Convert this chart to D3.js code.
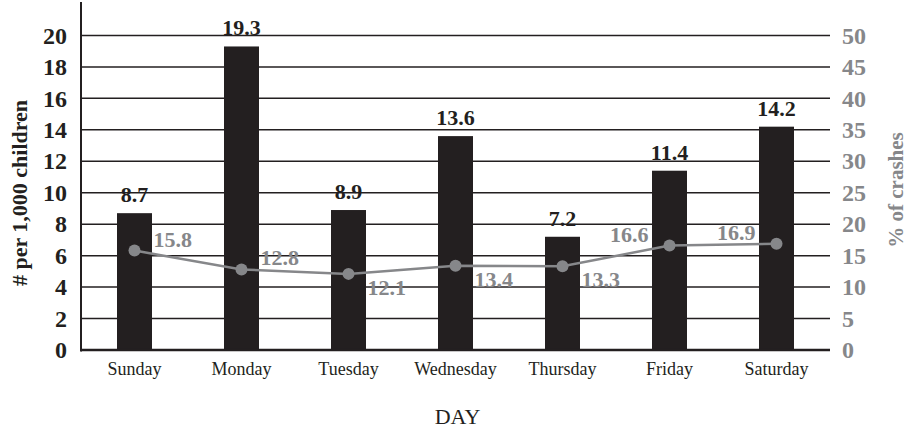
<!DOCTYPE html>
<html>
<head>
<meta charset="utf-8">
<script src="https://cdn.jsdelivr.net/npm/d3@7"></script>
<style>
  body { margin: 0; background: #fff; }
  svg { display: block; font-family: "Liberation Serif", "DejaVu Serif", serif; }
</style>
</head>
<body>
<div id="wrapper"></div>
<script>
// data
const days = ["Sunday", "Monday", "Tuesday", "Wednesday", "Thursday", "Friday", "Saturday"]
const ratePer1000 = [8.7, 19.3, 8.9, 13.6, 7.2, 11.4, 14.2]
const pctCrashes = [15.8, 12.8, 12.1, 13.4, 13.3, 16.6, 16.9]
const leftTicks = [0, 2, 4, 6, 8, 10, 12, 14, 16, 18, 20]
const rightTicks = [0, 5, 10, 15, 20, 25, 30, 35, 40, 45, 50]
// where each % label sits next to its point
const pctLabelSide = ["above-right", "above-right", "below-right", "below-right", "below-right", "above-left", "above-left"]

const dark = "#231f20"
const gray = "#86878a"

// dimensions
let dimensions = {
  width: 921,
  height: 429,
  margins: { top: 4, right: 91, bottom: 79, left: 81 }
}
dimensions.boundedWidth = dimensions.width - dimensions.margins.left - dimensions.margins.right
dimensions.boundedHeight = dimensions.height - dimensions.margins.top - dimensions.margins.bottom

const wrapper = d3.select("#wrapper")
  .append("svg")
    .attr("width", dimensions.width)
    .attr("height", dimensions.height)

const bounds = wrapper.append("g")
  .attr("transform", `translate(${dimensions.margins.left},${dimensions.margins.top})`)

// scales
const xScale = d3.scaleBand()
  .domain(days)
  .range([0, dimensions.boundedWidth])
  .paddingInner(0.673)
  .paddingOuter(0.3365)

const yScale = d3.scaleLinear()
  .domain([0, 22])
  .range([dimensions.boundedHeight, 0])

const y2Scale = d3.scaleLinear()
  .domain([0, 55])
  .range([dimensions.boundedHeight, 0])

// gridlines
bounds.append("g")
  .selectAll("line")
  .data(leftTicks.filter(d => d > 0))
  .join("line")
    .attr("x1", 0)
    .attr("x2", dimensions.boundedWidth)
    .attr("y1", d => yScale(d))
    .attr("y2", d => yScale(d))
    .attr("stroke", dark)
    .attr("stroke-width", 1.5)

// bars
bounds.append("g")
  .selectAll("rect")
  .data(ratePer1000)
  .join("rect")
    .attr("x", (d, i) => xScale(days[i]))
    .attr("y", d => yScale(d))
    .attr("width", xScale.bandwidth())
    .attr("height", d => dimensions.boundedHeight - yScale(d))
    .attr("fill", dark)

// bar labels
bounds.append("g")
  .selectAll("text")
  .data(ratePer1000)
  .join("text")
    .attr("x", (d, i) => xScale(days[i]) + xScale.bandwidth() / 2)
    .attr("y", d => yScale(d) - 11)
    .attr("text-anchor", "middle")
    .attr("fill", dark)
    .style("font-size", "22px")
    .style("font-weight", "bold")
    .text(d => d.toFixed(1))

// axes
const yAxis = bounds.append("g")
  .call(d3.axisLeft(yScale).tickValues(leftTicks).tickSize(0).tickPadding(14))
yAxis.select(".domain").remove()
yAxis.selectAll("text")
  .attr("fill", dark)
  .style("font-size", "24px")
  .style("font-weight", "bold")
  .style("font-family", "Liberation Serif")

const y2Axis = bounds.append("g")
  .attr("transform", `translate(${dimensions.boundedWidth},0)`)
  .call(d3.axisRight(y2Scale).tickValues(rightTicks).tickSize(0).tickPadding(12))
y2Axis.select(".domain").remove()
y2Axis.selectAll("text")
  .attr("fill", gray)
  .style("font-size", "24px")
  .style("font-weight", "bold")
  .style("font-family", "Liberation Serif")

const xAxis = bounds.append("g")
  .attr("transform", `translate(0,${dimensions.boundedHeight})`)
  .call(d3.axisBottom(xScale).tickSize(0).tickPadding(12))
xAxis.select(".domain").remove()
xAxis.selectAll("text")
  .attr("fill", dark)
  .style("font-size", "18px")
  .style("font-family", "Liberation Serif")

// axis lines
bounds.append("line")
  .attr("x1", 0).attr("x2", 0)
  .attr("y1", -2).attr("y2", dimensions.boundedHeight + 1.5)
  .attr("stroke", dark)
  .attr("stroke-width", 2)
bounds.append("line")
  .attr("x1", 0).attr("x2", dimensions.boundedWidth)
  .attr("y1", dimensions.boundedHeight).attr("y2", dimensions.boundedHeight)
  .attr("stroke", dark)
  .attr("stroke-width", 2.5)

// % line
const lineGenerator = d3.line()
  .x((d, i) => xScale(days[i]) + xScale.bandwidth() / 2)
  .y(d => y2Scale(d))

bounds.append("path")
  .attr("d", lineGenerator(pctCrashes))
  .attr("fill", "none")
  .attr("stroke", gray)
  .attr("stroke-width", 2.5)

bounds.append("g")
  .selectAll("circle")
  .data(pctCrashes)
  .join("circle")
    .attr("cx", (d, i) => xScale(days[i]) + xScale.bandwidth() / 2)
    .attr("cy", d => y2Scale(d))
    .attr("r", 6)
    .attr("fill", gray)

bounds.append("g")
  .selectAll("text")
  .data(pctCrashes)
  .join("text")
    .attr("x", (d, i) => xScale(days[i]) + xScale.bandwidth() / 2
      + (pctLabelSide[i].endsWith("left") ? -21 : 19))
    .attr("y", (d, i) => y2Scale(d) + (pctLabelSide[i].startsWith("below") ? 21 : -4))
    .attr("text-anchor", (d, i) => pctLabelSide[i].endsWith("left") ? "end" : "start")
    .attr("fill", gray)
    .style("font-size", "22px")
    .style("font-weight", "bold")
    .text(d => d.toFixed(1))

// axis titles
wrapper.append("text")
  .attr("transform", `translate(27,${dimensions.margins.top + dimensions.boundedHeight / 2 + 16}) rotate(-90)`)
  .attr("text-anchor", "middle")
  .attr("fill", dark)
  .style("font-size", "22px")
  .style("font-weight", "bold")
  .text("# per 1,000 children")

wrapper.append("text")
  .attr("transform", `translate(903,190) rotate(-90)`)
  .attr("text-anchor", "middle")
  .attr("fill", gray)
  .style("font-size", "21px")
  .style("font-weight", "bold")
  .text("% of crashes")

wrapper.append("text")
  .attr("x", dimensions.margins.left + dimensions.boundedWidth / 2 + 2)
  .attr("y", 424)
  .attr("text-anchor", "middle")
  .attr("fill", dark)
  .style("font-size", "22px")
  .text("DAY")
</script>
</body>
</html>
